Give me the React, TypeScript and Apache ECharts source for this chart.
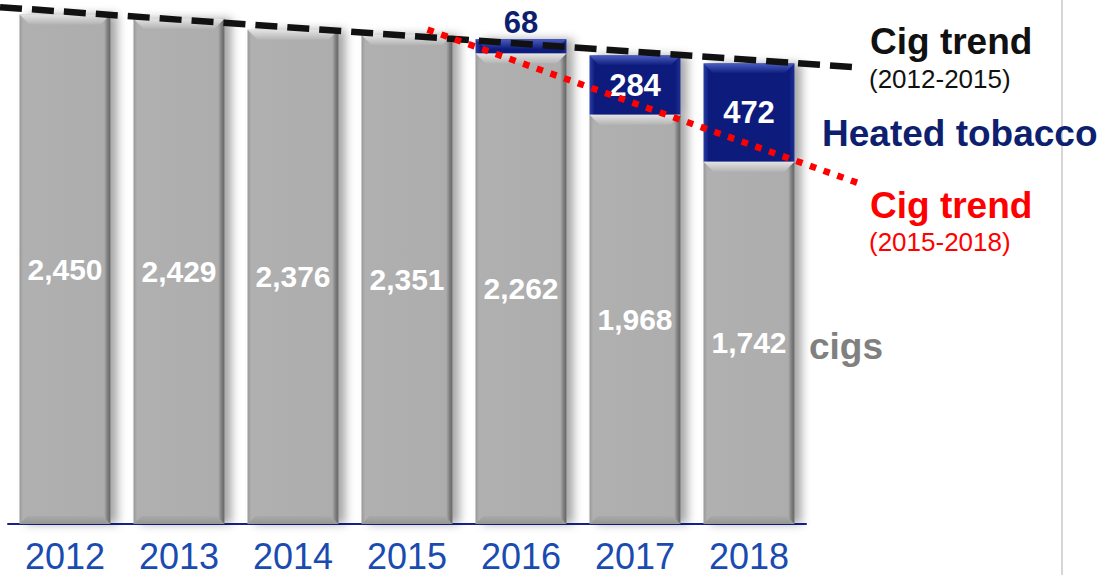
import React, { useEffect, useRef } from "react";
import * as echarts from "echarts";

const years = ["2012", "2013", "2014", "2015", "2016", "2017", "2018"];
const cigs = [2450, 2429, 2376, 2351, 2262, 1968, 1742];
const heated = [null, null, null, null, 68, 284, 472];
// trend lines: [category position, value]
const trend1215: [number, number][] = [[-0.57, 2485], [6.99, 2194]];
const trend1518: [number, number][] = [[3.18, 2377], [7.0, 1631]];

const FONT = "'Liberation Sans', Arial, sans-serif";
const BAR_W = 91;
const GRID_LEFT = 8;
const CAT_W = 114;
const LINE_MIN = -0.5 - GRID_LEFT / CAT_W;
const LINE_MAX = 7.0;

export default function App() {
  const ref = useRef<HTMLDivElement>(null);
  useEffect(() => {
    document.body.style.margin = "0";
    const chart = echarts.init(ref.current!, null, { renderer: "svg" });
    const fmt = (v: number) => v.toLocaleString("en-US");
    const grayFill = new echarts.graphic.LinearGradient(0, 0, 1, 0, [
      { offset: 0, color: "#989898" },
      { offset: 0.04, color: "#b0b0b0" },
      { offset: 0.93, color: "#adadad" },
      { offset: 0.97, color: "#7c7c7c" },
      { offset: 1, color: "#666666" },
    ]);
    const navyFill = new echarts.graphic.LinearGradient(0, 0, 1, 0, [
      { offset: 0, color: "#2a3ea6" },
      { offset: 0.06, color: "#0c1c7c" },
      { offset: 0.94, color: "#0c1c7c" },
      { offset: 1, color: "#1e2f92" },
    ]);
    const totals = cigs.map((c, i) => (heated[i] ? c + (heated[i] as number) : null));
    const bevel = (light: string, base: string) => (params: any, api: any) => {
      const i = api.value(0);
      const v = api.value(1);
      const p = api.coord([i, v]);
      const h = 10;
      const x0 = p[0] - BAR_W / 2;
      const x1 = p[0] + BAR_W / 2;
      return {
        type: "polygon",
        shape: { points: [[x0, p[1]], [x1, p[1]], [x1 - h, p[1] + h], [x0 + h, p[1] + h]] },
        style: {
          fill: new echarts.graphic.LinearGradient(0, 0, 0, 1, [
            { offset: 0, color: light },
            { offset: 1, color: base },
          ]),
        },
        silent: true,
      };
    };
    const bottomBevel = (params: any, api: any) => {
      const i = api.value(0);
      const p = api.coord([i, 0]);
      const h = 8;
      const x0 = p[0] - BAR_W / 2;
      const x1 = p[0] + BAR_W / 2;
      return {
        type: "polygon",
        shape: { points: [[x0, p[1]], [x1, p[1]], [x1 - h, p[1] - h], [x0 + h, p[1] - h]] },
        style: {
          fill: new echarts.graphic.LinearGradient(0, 0, 0, 1, [
            { offset: 0, color: "#aaaaaa" },
            { offset: 1, color: "#959595" },
          ]),
        },
        silent: true,
      };
    };
    chart.setOption({
      animation: false,
      grid: [
        { left: GRID_LEFT, width: CAT_W * 7, top: 4, bottom: 51, containLabel: false },
        { left: 0, width: (LINE_MAX - LINE_MIN) * CAT_W, top: 4, bottom: 51, containLabel: false },
      ],
      xAxis: [
        {
          type: "category",
          gridIndex: 0,
          data: years,
          axisLine: { show: true, lineStyle: { color: "#14238a", width: 2 } },
          axisTick: { show: false },
          axisLabel: { color: "#1a4bb0", fontSize: 36, fontFamily: FONT, margin: 14 },
        },
        { type: "value", gridIndex: 1, min: LINE_MIN, max: LINE_MAX, show: false },
      ],
      yAxis: [
        { type: "value", gridIndex: 0, min: 0, max: 2500, show: false, splitLine: { show: false } },
        { type: "value", gridIndex: 1, min: 0, max: 2500, show: false, splitLine: { show: false } },
      ],
      series: [
        {
          type: "bar",
          stack: "t",
          data: cigs,
          barWidth: BAR_W,
          itemStyle: {
            color: grayFill,
            shadowColor: "rgba(0,0,0,0.35)",
            shadowBlur: 10,
            shadowOffsetX: 7,
          },
          label: {
            show: true,
            position: "inside",
            color: "#ffffff",
            fontSize: 30,
            fontWeight: "bold",
            fontFamily: FONT,
            formatter: (p: any) => fmt(p.value),
          },
          z: 2,
        },
        {
          type: "bar",
          stack: "t",
          barWidth: BAR_W,
          data: heated.map((v) =>
            v !== null && v < 100
              ? { value: v, label: { position: "top", color: "#0d1f6e", distance: 1 } }
              : v
          ),
          itemStyle: {
            color: navyFill,
            shadowColor: "rgba(0,0,0,0.35)",
            shadowBlur: 10,
            shadowOffsetX: 7,
          },
          label: {
            show: true,
            position: "inside",
            color: "#ffffff",
            fontSize: 31,
            fontWeight: "bold",
            fontFamily: FONT,
          },
          z: 2,
        },
        {
          type: "custom",
          renderItem: bevel("#e4e4e4", "#b4b4b4"),
          data: cigs.map((c, i) => [i, c]),
          z: 3,
          silent: true,
        },
        {
          type: "custom",
          renderItem: bottomBevel,
          data: cigs.map((c, i) => [i, c]),
          z: 3,
          silent: true,
        },
        {
          type: "custom",
          renderItem: bevel("#4a5cc0", "#0c1c7c"),
          data: totals.map((t, i) => [i, t]).filter((d) => d[1] !== null),
          z: 3,
          silent: true,
        },
        {
          type: "line",
          xAxisIndex: 1,
          yAxisIndex: 1,
          data: trend1215,
          symbol: "none",
          lineStyle: { color: "#111111", width: 6.5, type: [22, 10] },
          z: 5,
          silent: true,
        },
        {
          type: "line",
          xAxisIndex: 1,
          yAxisIndex: 1,
          data: trend1518,
          symbol: "none",
          lineStyle: { color: "#ff0000", width: 6.5, type: [6.5, 8] },
          z: 6,
          silent: true,
        },
      ],
      graphic: [
        {
          type: "line",
          shape: { x1: 1062, y1: 0, x2: 1062, y2: 575 },
          style: { stroke: "#c8c8c8", lineWidth: 1.5 },
          z: 0,
        },
        {
          type: "text",
          x: 870,
          y: 41,
          style: { text: "Cig trend", fill: "#111111", font: `bold 37px ${FONT}`, verticalAlign: "middle" },
        },
        {
          type: "text",
          x: 869,
          y: 79,
          style: { text: "(2012-2015)", fill: "#111111", font: `26px ${FONT}`, verticalAlign: "middle" },
        },
        {
          type: "text",
          x: 822,
          y: 133,
          style: { text: "Heated tobacco", fill: "#0d1f6e", font: `bold 37px ${FONT}`, verticalAlign: "middle" },
        },
        {
          type: "text",
          x: 870,
          y: 205,
          style: { text: "Cig trend", fill: "#ff0000", font: `bold 37px ${FONT}`, verticalAlign: "middle" },
        },
        {
          type: "text",
          x: 869,
          y: 242,
          style: { text: "(2015-2018)", fill: "#ff0000", font: `26px ${FONT}`, verticalAlign: "middle" },
        },
        {
          type: "text",
          x: 809,
          y: 346,
          style: { text: "cigs", fill: "#808080", font: `bold 37px ${FONT}`, verticalAlign: "middle" },
        },
      ],
    });
    return () => chart.dispose();
  }, []);
  return <div ref={ref} style={{ width: 1097, height: 575 }} />;
}
